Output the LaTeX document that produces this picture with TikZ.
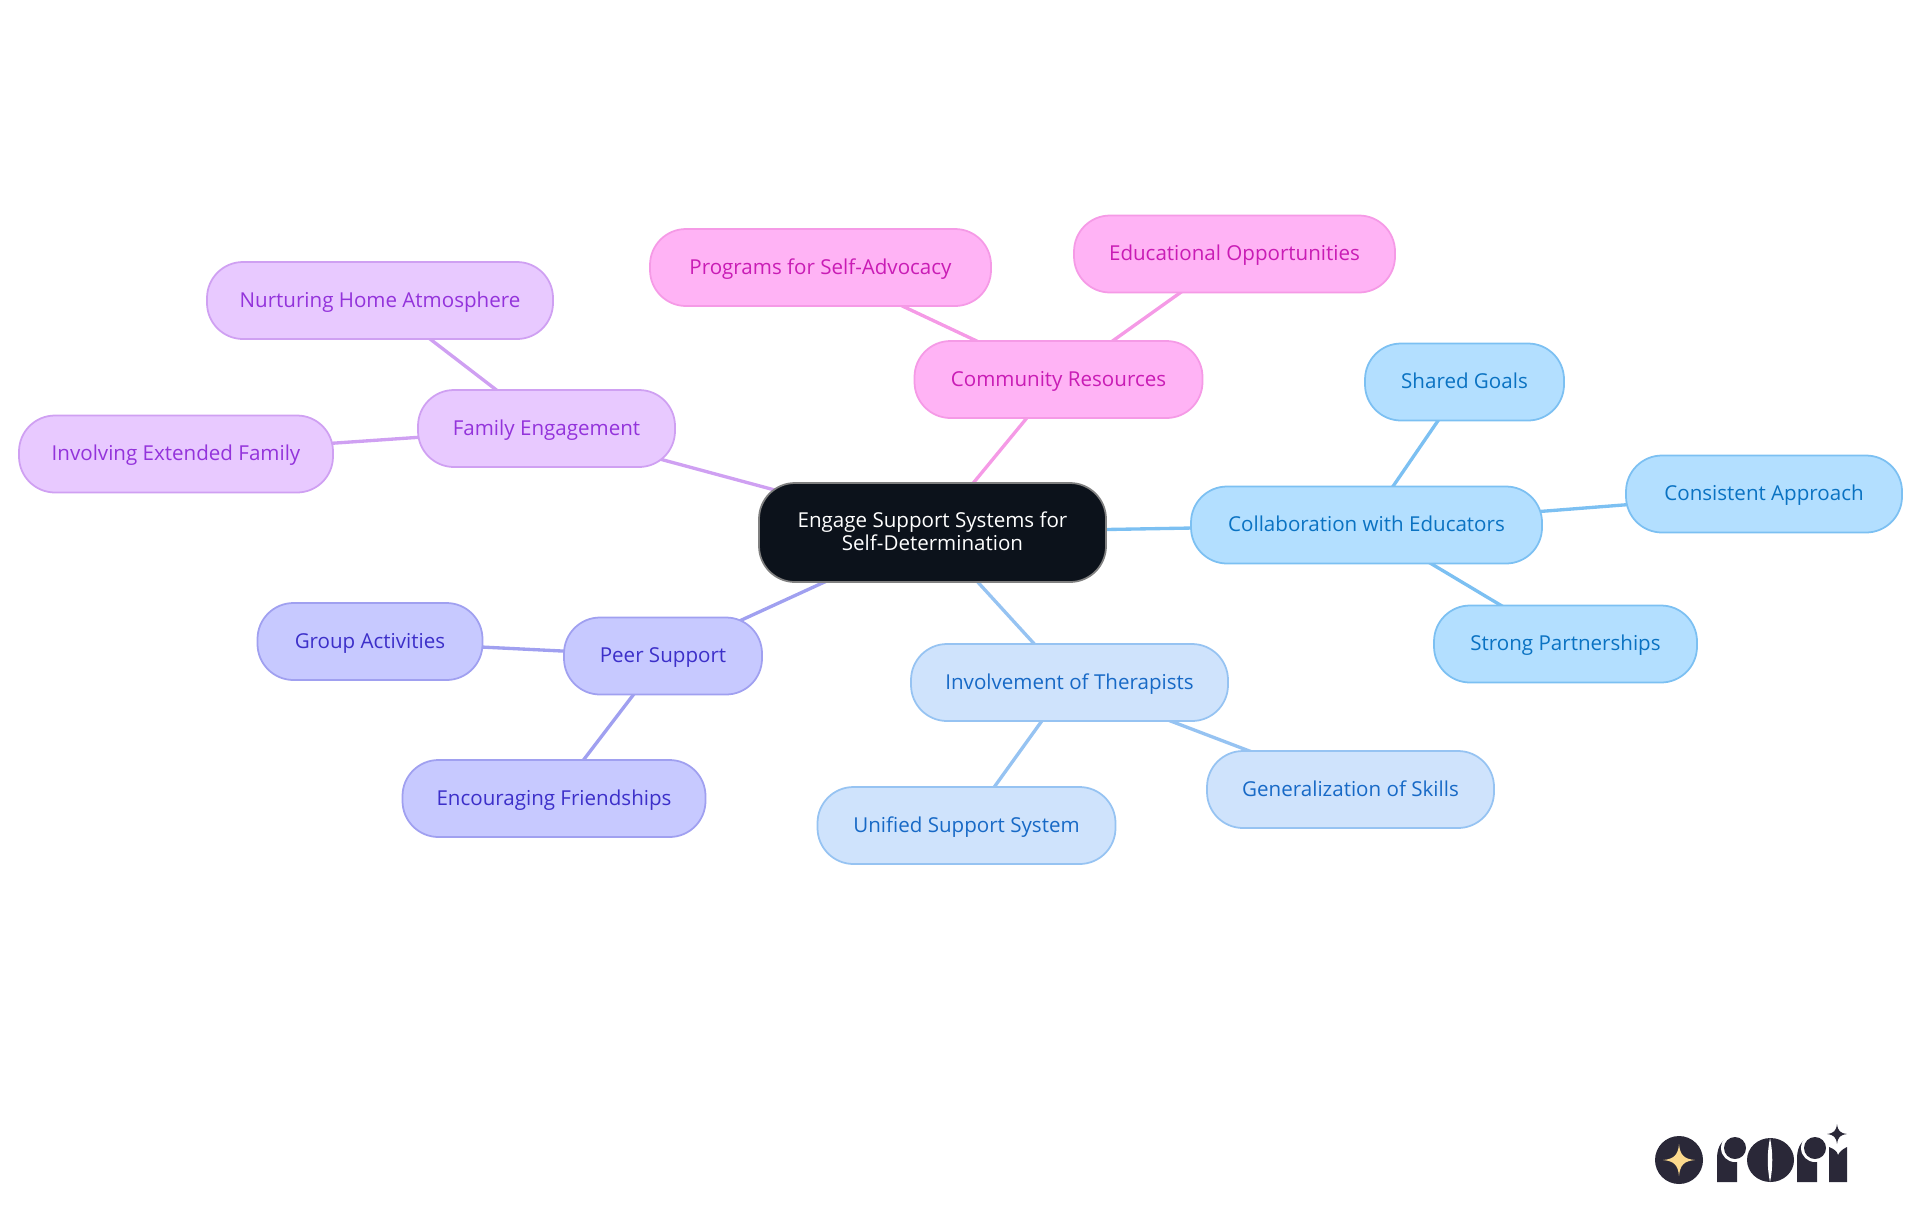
\documentclass[tikz,border=0pt]{standalone}
\usepackage{fontspec}
\setmainfont{Open Sans}
\usetikzlibrary{backgrounds}
\definecolor{pinkfill}{HTML}{FFB3F5}
\definecolor{pinkline}{HTML}{F59AE6}
\definecolor{pinktext}{HTML}{C91CB5}
\definecolor{purplefill}{HTML}{E8C9FF}
\definecolor{purpleline}{HTML}{CFA0F2}
\definecolor{purpletext}{HTML}{9333DB}
\definecolor{indigofill}{HTML}{C7C9FF}
\definecolor{indigoline}{HTML}{A0A0F0}
\definecolor{indigotext}{HTML}{3C2FC9}
\definecolor{bluefill}{HTML}{CFE3FC}
\definecolor{blueline}{HTML}{96C3F2}
\definecolor{bluetext}{HTML}{1769C6}
\definecolor{skyfill}{HTML}{B3DFFF}
\definecolor{skyline}{HTML}{7CC0F2}
\definecolor{skytext}{HTML}{0A72C2}
\definecolor{rootfill}{HTML}{0C121B}
\definecolor{logoink}{HTML}{2A2838}
\definecolor{logostar}{HTML}{FBD98D}
\tikzset{
  mapnode/.style={rectangle,rounded corners=0.36cm,line width=0.5pt,minimum height=0.77cm,inner sep=0pt,font=\fontsize{5.85}{6.5}\selectfont},
  leafnode/.style={mapnode,text height=0.18cm,text depth=0.05cm},
  pinknode/.style={leafnode,draw=pinkline,fill=pinkfill,text=pinktext},
  purplenode/.style={leafnode,draw=purpleline,fill=purplefill,text=purpletext},
  indigonode/.style={leafnode,draw=indigoline,fill=indigofill,text=indigotext},
  bluenode/.style={leafnode,draw=blueline,fill=bluefill,text=bluetext},
  skynode/.style={leafnode,draw=skyline,fill=skyfill,text=skytext},
  rootnode/.style={mapnode,draw=gray,fill=rootfill,text=white,align=center,minimum height=0.99cm,text depth=0.02cm},
  mapedge/.style={line width=0.95pt}
}
\begin{document}
\begin{tikzpicture}
\useasboundingbox (0,0) rectangle (19.2,-12.15);
\node[rootnode,minimum width=3.47cm] (root) at (9.325,-5.325) {Engage Support Systems for\\Self-Determination};
\node[pinknode,minimum width=2.88cm] (comm) at (10.585,-3.795) {Community Resources};
\node[pinknode,minimum width=3.41cm] (prog) at (8.205,-2.675) {Programs for Self-Advocacy};
\node[pinknode,minimum width=3.21cm] (edu) at (12.345,-2.54) {Educational Opportunities};
\node[skynode,minimum width=3.51cm] (collab) at (13.665,-5.25) {Collaboration with Educators};
\node[skynode,minimum width=1.99cm] (goals) at (14.645,-3.82) {Shared Goals};
\node[skynode,minimum width=2.76cm] (approach) at (17.64,-4.94) {Consistent Approach};
\node[skynode,minimum width=2.63cm] (partner) at (15.655,-6.44) {Strong Partnerships};
\node[bluenode,minimum width=3.17cm] (ther) at (10.695,-6.825) {Involvement of Therapists};
\node[bluenode,minimum width=2.87cm] (skills) at (13.505,-7.895) {Generalization of Skills};
\node[bluenode,minimum width=2.98cm] (unified) at (9.665,-8.255) {Unified Support System};
\node[indigonode,minimum width=1.98cm] (peer) at (6.63,-6.56) {Peer Support};
\node[indigonode,minimum width=2.25cm] (group) at (3.70,-6.415) {Group Activities};
\node[indigonode,minimum width=3.03cm] (friends) at (5.54,-7.985) {Encouraging Friendships};
\node[purplenode,minimum width=2.57cm] (fam) at (5.465,-4.285) {Family Engagement};
\node[purplenode,minimum width=3.46cm] (home) at (3.80,-3.005) {Nurturing Home Atmosphere};
\node[purplenode,minimum width=3.14cm] (ext) at (1.76,-4.54) {Involving Extended Family};
\begin{scope}[on background layer]
\draw [mapedge,pinkline] (prog.center)--(comm.center)--(edu.center);
\draw [mapedge,pinkline] (comm.center)--(root.center);
\draw [mapedge,skyline] (goals.center)--(collab.center)--(approach.center);
\draw [mapedge,skyline] (partner.center)--(collab.center)--(root.center);
\draw [mapedge,blueline] (skills.center)--(ther.center)--(unified.center);
\draw [mapedge,blueline] (ther.center)--(root.center);
\draw [mapedge,indigoline] (group.center)--(peer.center)--(friends.center);
\draw [mapedge,indigoline] (peer.center)--(root.center);
\draw [mapedge,purpleline] (home.center)--(fam.center)--(ext.center);
\draw [mapedge,purpleline] (fam.center)--(root.center);
\end{scope}
\fill [logoink] (16.79,-11.60) circle (0.24cm);
\fill [logostar] (16.79,-11.44) .. controls (16.80,-11.55) and (16.84,-11.59) .. (16.95,-11.60) .. controls (16.84,-11.61) and (16.80,-11.65) .. (16.79,-11.76) .. controls (16.78,-11.65) and (16.74,-11.61) .. (16.63,-11.60) .. controls (16.74,-11.59) and (16.78,-11.55) .. (16.79,-11.44) -- cycle;
\fill [logoink] (17.17,-11.82) -- (17.17,-11.58) .. controls (17.17,-11.46) and (17.23,-11.38) .. (17.31,-11.38) -- (17.37,-11.38) -- (17.37,-11.82) -- cycle;
\fill [white] (17.35,-11.48) circle (0.14cm);
\fill [logoink] (17.35,-11.48) circle (0.11cm);
\fill [logoink] (17.705,-11.60) ellipse (0.235cm and 0.22cm);
\fill [white] (17.70,-11.38) .. controls (17.67,-11.52) and (17.67,-11.68) .. (17.70,-11.82) .. controls (17.73,-11.68) and (17.73,-11.52) .. (17.70,-11.38) -- cycle;
\fill [logoink] (17.97,-11.82) -- (17.97,-11.58) .. controls (17.97,-11.46) and (18.03,-11.38) .. (18.11,-11.38) -- (18.17,-11.38) -- (18.17,-11.82) -- cycle;
\fill [white] (18.15,-11.48) circle (0.14cm);
\fill [logoink] (18.15,-11.48) circle (0.11cm);
\fill [logoink] (18.29,-11.82) -- (18.29,-11.47) .. controls (18.34,-11.49) and (18.37,-11.51) .. (18.38,-11.55) .. controls (18.40,-11.51) and (18.43,-11.49) .. (18.47,-11.47) -- (18.47,-11.82) -- cycle;
\fill [logoink] (18.37,-11.24) .. controls (18.38,-11.31) and (18.40,-11.33) .. (18.47,-11.34) .. controls (18.40,-11.35) and (18.38,-11.37) .. (18.37,-11.44) .. controls (18.36,-11.37) and (18.34,-11.35) .. (18.27,-11.34) .. controls (18.34,-11.33) and (18.36,-11.31) .. (18.37,-11.24) -- cycle;
\end{tikzpicture}
\end{document}
